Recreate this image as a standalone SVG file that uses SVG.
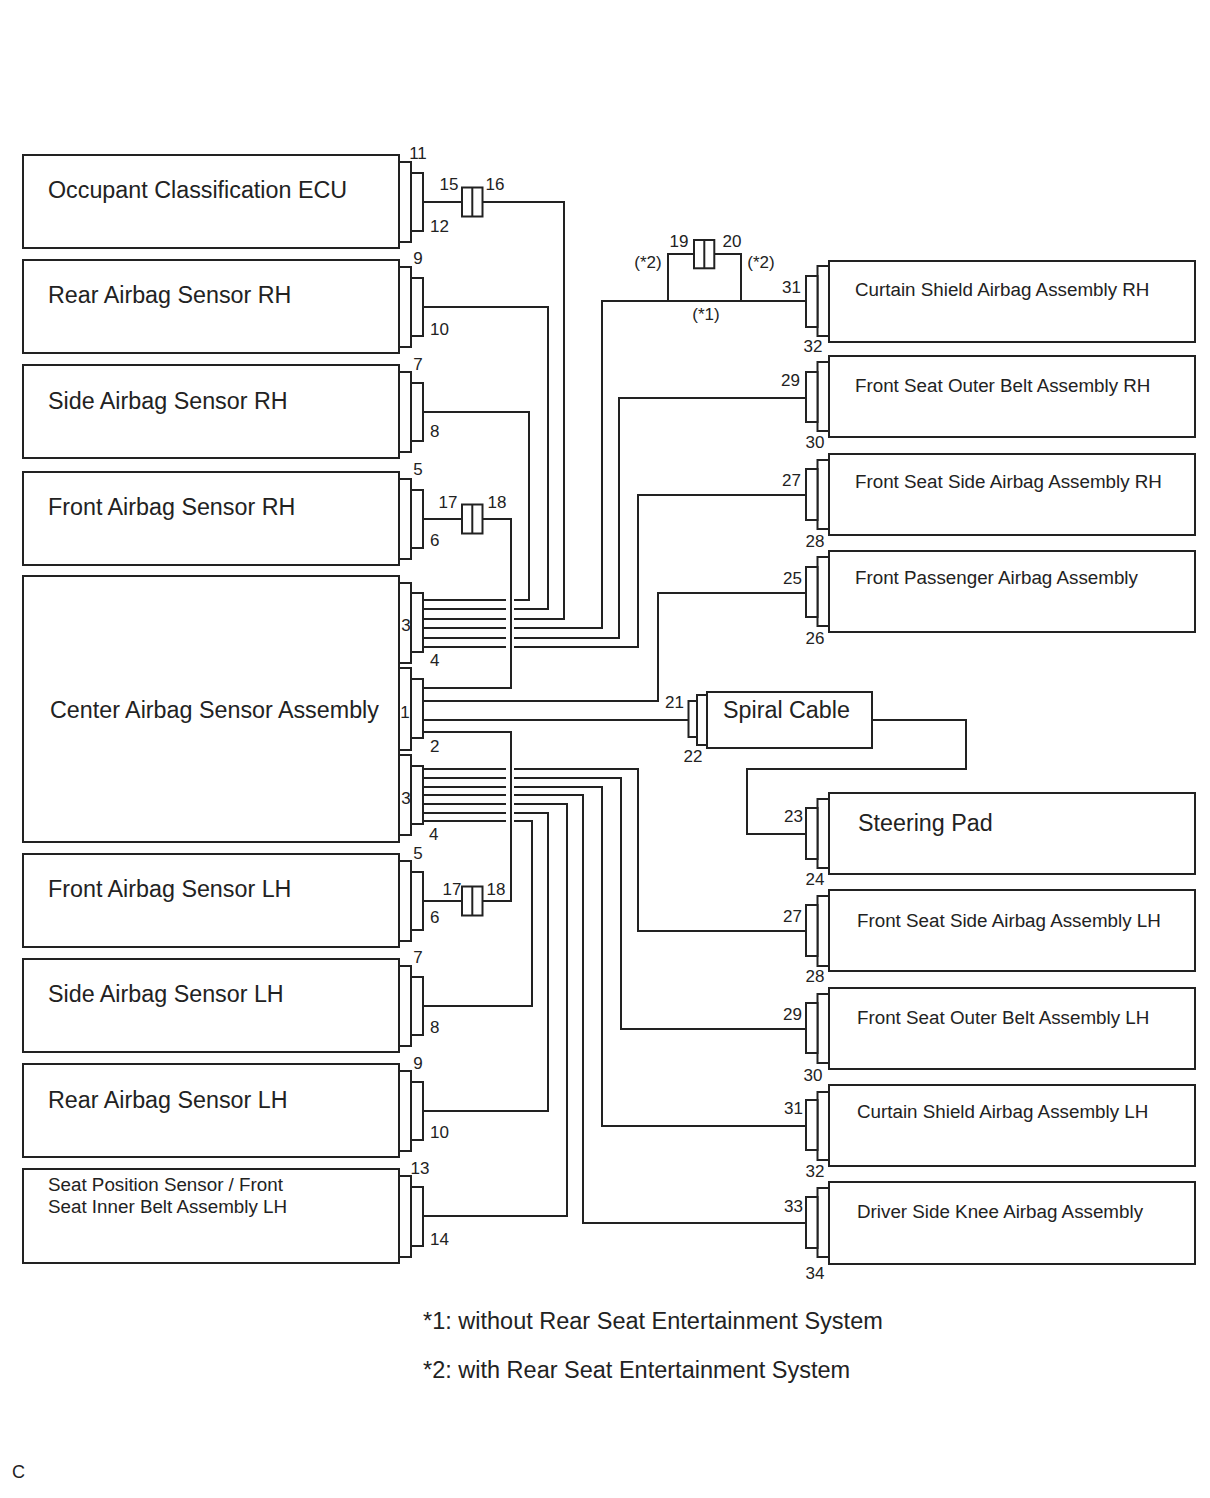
<svg xmlns="http://www.w3.org/2000/svg" width="1210" height="1498" viewBox="0 0 1210 1498">
<style>
.box{fill:#fff;stroke:#222;stroke-width:2}
.pin{fill:#fff;stroke:#222;stroke-width:2}
.w{fill:none;stroke:#222;stroke-width:2}
text{font-family:"Liberation Sans",Arial,sans-serif;fill:#222}
.lg{font-size:23.3px}
.sm{font-size:18.8px}
.num{font-size:17px}
.nm{font-size:17px;text-anchor:middle}
.ne{font-size:17px;text-anchor:end}
.fn{font-size:23.5px}
</style>
<rect width="1210" height="1498" fill="#fff"/>

<g id="connectors">
<path class="w" d="M423 202 H462 M482.5 202 H564 V619 H514 M506 619 H423"/>
<path class="w" d="M423 307 H548 V609 H514 M506 609 H423"/>
<path class="w" d="M423 412 H529 V600 H514 M506 600 H423"/>
<path class="w" d="M806 301 H602 V628 H514 M506 628 H423"/>
<path class="w" d="M668 301 V254 H694 M714.3 254 H741 V301"/>
<path class="w" d="M806 398 H619 V638 H514 M506 638 H423"/>
<path class="w" d="M806 495 H638 V647 H514 M506 647 H423"/>
<path class="w" d="M806 593 H658 V701 H423"/>
<path class="w" d="M423 519 H462 M482.5 519 H511 V688 H423"/>
<path class="w" d="M423 720 H688"/>
<path class="w" d="M872 720 H966 V769 H747 V834 H806"/>
<path class="w" d="M423 732 H511 V901 H482.5 M462 901 H423"/>
<path class="w" d="M423 769 H506 M514 769 H638 V931 H806"/>
<path class="w" d="M423 778 H506 M514 778 H621 V1029 H806"/>
<path class="w" d="M423 787 H506 M514 787 H602 V1126 H806"/>
<path class="w" d="M423 795 H506 M514 795 H583 V1223 H806"/>
<path class="w" d="M423 804 H506 M514 804 H567 V1216 H423"/>
<path class="w" d="M423 813 H506 M514 813 H548 V1111 H423"/>
<path class="w" d="M423 821 H506 M514 821 H532 V1006 H423"/>
</g>

<g id="junction-15-16">
<rect class="pin" x="462" y="187.5" width="20.5" height="29"/>
<line class="w" x1="472.3" y1="187.5" x2="472.3" y2="216.5"/>
<text class="nm" x="449" y="190">15</text>
<text class="nm" x="495" y="190">16</text>
</g>
<g id="junction-17-18-rh">
<rect class="pin" x="462" y="504.5" width="20.5" height="29"/>
<line class="w" x1="472.3" y1="504.5" x2="472.3" y2="533.5"/>
<text class="nm" x="448" y="508">17</text>
<text class="nm" x="497" y="508">18</text>
</g>
<g id="junction-17-18-lh">
<rect class="pin" x="462" y="886.5" width="20.5" height="29"/>
<line class="w" x1="472.3" y1="886.5" x2="472.3" y2="915.5"/>
<text class="nm" x="452" y="895">17</text>
<text class="nm" x="496" y="895">18</text>
</g>
<g id="junction-19-20">
<rect class="pin" x="694" y="240" width="20.3" height="28.3"/>
<line class="w" x1="704.3" y1="240" x2="704.3" y2="268.3"/>
<text class="nm" x="679" y="247">19</text>
<text class="nm" x="732" y="247">20</text>
<text class="nm" x="648" y="268">(*2)</text>
<text class="nm" x="761" y="268">(*2)</text>
<text class="nm" x="706" y="320">(*1)</text>
</g>

<g id="occupant-classification-ecu">
<rect class="box" x="23" y="155" width="376" height="93"/>
<rect class="pin" x="399" y="162" width="12" height="80"/>
<rect class="pin" x="411" y="173" width="12" height="58"/>
<text class="lg" x="48" y="198">Occupant Classification ECU</text>
<text class="nm" x="418" y="159">11</text>
<text class="num" x="430" y="232">12</text>
</g>
<g id="rear-airbag-sensor-rh">
<rect class="box" x="23" y="260" width="376" height="93"/>
<rect class="pin" x="399" y="267" width="12" height="80"/>
<rect class="pin" x="411" y="278" width="12" height="58"/>
<text class="lg" x="48" y="303">Rear Airbag Sensor RH</text>
<text class="nm" x="418" y="264">9</text>
<text class="num" x="430" y="335">10</text>
</g>
<g id="side-airbag-sensor-rh">
<rect class="box" x="23" y="365" width="376" height="93"/>
<rect class="pin" x="399" y="372" width="12" height="80"/>
<rect class="pin" x="411" y="383" width="12" height="58"/>
<text class="lg" x="48" y="409">Side Airbag Sensor RH</text>
<text class="nm" x="418" y="370">7</text>
<text class="num" x="430" y="437">8</text>
</g>
<g id="front-airbag-sensor-rh">
<rect class="box" x="23" y="472" width="376" height="93"/>
<rect class="pin" x="399" y="479" width="12" height="80"/>
<rect class="pin" x="411" y="490" width="12" height="58"/>
<text class="lg" x="48" y="515">Front Airbag Sensor RH</text>
<text class="nm" x="418" y="475">5</text>
<text class="num" x="430" y="546">6</text>
</g>
<g id="center-airbag-sensor-assembly">
<rect class="box" x="23" y="576" width="376" height="266"/>
<rect class="pin" x="399" y="583" width="12" height="80"/>
<rect class="pin" x="411" y="593" width="12" height="59"/>
<rect class="pin" x="399" y="668" width="12" height="82"/>
<rect class="pin" x="411" y="679" width="12" height="59"/>
<rect class="pin" x="399" y="755" width="12" height="80"/>
<rect class="pin" x="411" y="766" width="12" height="58"/>
<text class="lg" x="50" y="718">Center Airbag Sensor Assembly</text>
<text class="nm" x="406" y="631">3</text>
<text class="num" x="430" y="666">4</text>
<text class="nm" x="405" y="718">1</text>
<text class="num" x="430" y="752">2</text>
<text class="nm" x="406" y="804">3</text>
<text class="num" x="429" y="840">4</text>
</g>
<g id="front-airbag-sensor-lh">
<rect class="box" x="23" y="854" width="376" height="93"/>
<rect class="pin" x="399" y="861" width="12" height="80"/>
<rect class="pin" x="411" y="872" width="12" height="58"/>
<text class="lg" x="48" y="897">Front Airbag Sensor LH</text>
<text class="nm" x="418" y="859">5</text>
<text class="num" x="430" y="923">6</text>
</g>
<g id="side-airbag-sensor-lh">
<rect class="box" x="23" y="959" width="376" height="93"/>
<rect class="pin" x="399" y="966" width="12" height="80"/>
<rect class="pin" x="411" y="977" width="12" height="58"/>
<text class="lg" x="48" y="1002">Side Airbag Sensor LH</text>
<text class="nm" x="418" y="963">7</text>
<text class="num" x="430" y="1033">8</text>
</g>
<g id="rear-airbag-sensor-lh">
<rect class="box" x="23" y="1064" width="376" height="93"/>
<rect class="pin" x="399" y="1071" width="12" height="80"/>
<rect class="pin" x="411" y="1082" width="12" height="58"/>
<text class="lg" x="48" y="1108">Rear Airbag Sensor LH</text>
<text class="nm" x="418" y="1069">9</text>
<text class="num" x="430" y="1138">10</text>
</g>
<g id="seat-position-sensor">
<rect class="box" x="23" y="1169" width="376" height="94"/>
<rect class="pin" x="399" y="1176" width="12" height="81"/>
<rect class="pin" x="411" y="1187" width="12" height="59"/>
<text class="sm" x="48" y="1191">Seat Position Sensor / Front</text>
<text class="sm" x="48" y="1213">Seat Inner Belt Assembly LH</text>
<text class="nm" x="420" y="1174">13</text>
<text class="num" x="430" y="1245">14</text>
</g>

<g id="spiral-cable">
<rect class="box" x="707" y="692" width="165" height="56"/>
<rect class="pin" x="697" y="695" width="10" height="50"/>
<rect class="pin" x="688.5" y="701" width="8.5" height="36"/>
<text class="lg" x="723" y="718">Spiral Cable</text>
<text class="ne" x="684" y="708">21</text>
<text class="nm" x="693" y="762">22</text>
</g>
<g id="steering-pad">
<rect class="box" x="829" y="793" width="366" height="81"/>
<rect class="pin" x="817.5" y="799" width="11.5" height="69"/>
<rect class="pin" x="806" y="808" width="11.5" height="51"/>
<text class="lg" x="858" y="831">Steering Pad</text>
<text class="ne" x="803" y="822">23</text>
<text class="nm" x="815" y="885">24</text>
</g>

<g id="curtain-shield-airbag-rh">
<rect class="box" x="829" y="261" width="366" height="81"/>
<rect class="pin" x="817.5" y="266" width="11.5" height="70"/>
<rect class="pin" x="806" y="276" width="11.5" height="51"/>
<text class="sm" x="855" y="296">Curtain Shield Airbag Assembly RH</text>
<text class="ne" x="801" y="293">31</text>
<text class="nm" x="813" y="352">32</text>
</g>
<g id="front-seat-outer-belt-rh">
<rect class="box" x="829" y="356" width="366" height="81"/>
<rect class="pin" x="817.5" y="362" width="11.5" height="69"/>
<rect class="pin" x="806" y="372" width="11.5" height="50"/>
<text class="sm" x="855" y="392">Front Seat Outer Belt Assembly RH</text>
<text class="ne" x="800" y="386">29</text>
<text class="nm" x="815" y="448">30</text>
</g>
<g id="front-seat-side-airbag-rh">
<rect class="box" x="829" y="454" width="366" height="81"/>
<rect class="pin" x="817.5" y="460" width="11.5" height="69"/>
<rect class="pin" x="806" y="469" width="11.5" height="51"/>
<text class="sm" x="855" y="488">Front Seat Side Airbag Assembly RH</text>
<text class="ne" x="801" y="486">27</text>
<text class="nm" x="815" y="547">28</text>
</g>
<g id="front-passenger-airbag">
<rect class="box" x="829" y="551" width="366" height="81"/>
<rect class="pin" x="817.5" y="557" width="11.5" height="69"/>
<rect class="pin" x="806" y="567" width="11.5" height="50"/>
<text class="sm" x="855" y="584">Front Passenger Airbag Assembly</text>
<text class="ne" x="802" y="584">25</text>
<text class="nm" x="815" y="644">26</text>
</g>
<g id="front-seat-side-airbag-lh">
<rect class="box" x="829" y="890" width="366" height="81"/>
<rect class="pin" x="817.5" y="896" width="11.5" height="70"/>
<rect class="pin" x="806" y="905" width="11.5" height="51"/>
<text class="sm" x="857" y="927">Front Seat Side Airbag Assembly LH</text>
<text class="ne" x="802" y="922">27</text>
<text class="nm" x="815" y="982">28</text>
</g>
<g id="front-seat-outer-belt-lh">
<rect class="box" x="829" y="988" width="366" height="81"/>
<rect class="pin" x="817.5" y="994" width="11.5" height="69"/>
<rect class="pin" x="806" y="1003" width="11.5" height="50"/>
<text class="sm" x="857" y="1024">Front Seat Outer Belt Assembly LH</text>
<text class="ne" x="802" y="1020">29</text>
<text class="nm" x="813" y="1081">30</text>
</g>
<g id="curtain-shield-airbag-lh">
<rect class="box" x="829" y="1085" width="366" height="81"/>
<rect class="pin" x="817.5" y="1092" width="11.5" height="68"/>
<rect class="pin" x="806" y="1100" width="11.5" height="50"/>
<text class="sm" x="857" y="1118">Curtain Shield Airbag Assembly LH</text>
<text class="ne" x="803" y="1114">31</text>
<text class="nm" x="815" y="1177">32</text>
</g>
<g id="driver-side-knee-airbag">
<rect class="box" x="829" y="1182" width="366" height="82"/>
<rect class="pin" x="817.5" y="1188" width="11.5" height="69"/>
<rect class="pin" x="806" y="1197" width="11.5" height="51"/>
<text class="sm" x="857" y="1218">Driver Side Knee Airbag Assembly</text>
<text class="ne" x="803" y="1212">33</text>
<text class="nm" x="815" y="1279">34</text>
</g>

<g id="notes">
<text class="fn" x="423" y="1329">*1: without Rear Seat Entertainment System</text>
<text class="fn" x="423" y="1378">*2: with Rear Seat Entertainment System</text>
<text x="12" y="1478" font-size="18">C</text>
</g>
</svg>
